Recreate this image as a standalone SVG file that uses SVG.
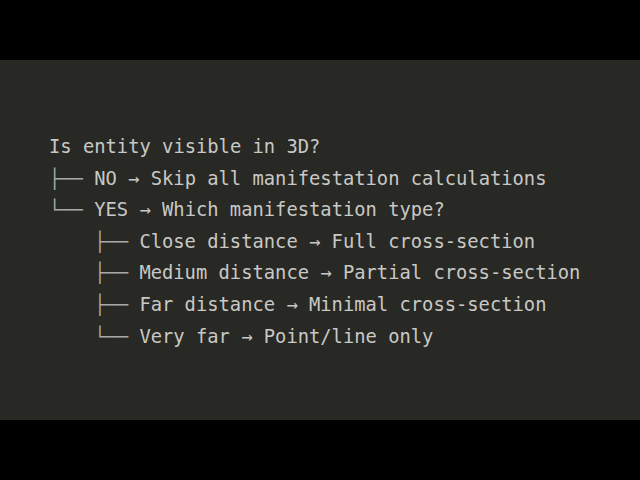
<svg xmlns="http://www.w3.org/2000/svg" width="640" height="480" viewBox="0 0 640 480">
<style>
  .t { font-family: "DejaVu Sans Mono", "Liberation Mono", monospace; font-size: 18.8px; fill: #c8c8c6; white-space: pre; }
  .b { fill: #a8a8a6; }
</style>
<rect x="0" y="0" width="640" height="480" fill="#000000"/>
<rect x="0" y="60" width="640" height="360" fill="#282824"/>
<g id="root"><text class="t" x="49" y="153">Is entity visible in 3D?</text></g>
<g id="connectors">
  <text class="t b" x="49" y="184.6">├──</text>
  <text class="t b" x="49" y="216.2">└──</text>
  <text class="t b" x="94.2" y="247.8">├──</text>
  <text class="t b" x="94.2" y="279.4">├──</text>
  <text class="t b" x="94.2" y="311">├──</text>
  <text class="t b" x="94.2" y="342.6">└──</text>
</g>
<g id="no"><text class="t" x="94.2" y="184.6">NO → Skip all manifestation calculations</text></g>
<g id="yes"><text class="t" x="94.2" y="216.2">YES → Which manifestation type?</text></g>
<g id="close"><text class="t" x="139.4" y="247.8">Close distance → Full cross-section</text></g>
<g id="medium"><text class="t" x="139.4" y="279.4">Medium distance → Partial cross-section</text></g>
<g id="far"><text class="t" x="139.4" y="311">Far distance → Minimal cross-section</text></g>
<g id="veryfar"><text class="t" x="139.4" y="342.6">Very far → Point/line only</text></g>
</svg>
